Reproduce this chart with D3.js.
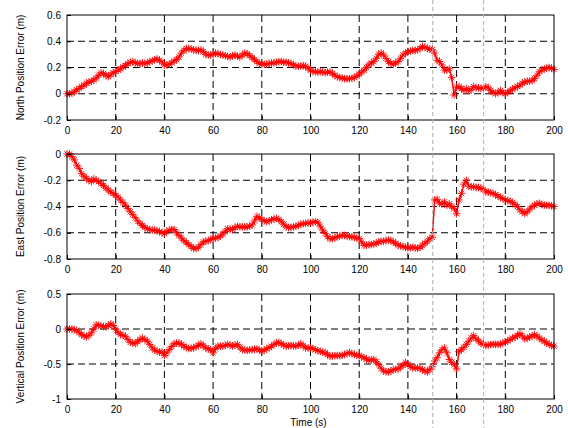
<!DOCTYPE html>
<html>
<head>
<meta charset="utf-8">
<script src="https://d3js.org/d3.v7.min.js"></script>
<style>
  body { margin: 0; background: #fff; }
  text { font-family: "Liberation Sans", Arial, sans-serif; font-size: 10px; fill: #000; }
</style>
</head>
<body>
<div id="chart"></div>
<script>
// time axis, 1 s steps
var timeS = d3.range(0, 201);

var northErr = [
  0.00, 0.00, 0.005, 0.015, 0.03, 0.04, 0.055, 0.065, 0.08, 0.09, 0.095,
  0.105, 0.12, 0.14, 0.16, 0.155, 0.14, 0.13, 0.145, 0.16, 0.17,
  0.18, 0.19, 0.205, 0.215, 0.23, 0.24, 0.245, 0.235, 0.23, 0.23,
  0.235, 0.23, 0.235, 0.245, 0.25, 0.26, 0.265, 0.255, 0.24, 0.22,
  0.22, 0.225, 0.235, 0.25, 0.26, 0.28, 0.31, 0.33, 0.345, 0.345,
  0.34, 0.335, 0.33, 0.33, 0.335, 0.32, 0.30, 0.295, 0.295, 0.30,
  0.31, 0.305, 0.30, 0.295, 0.29, 0.285, 0.28, 0.29, 0.295, 0.285,
  0.28, 0.295, 0.31, 0.305, 0.29, 0.275, 0.26, 0.245, 0.23, 0.225,
  0.225, 0.225, 0.23, 0.235, 0.235, 0.24, 0.245, 0.245, 0.24, 0.24,
  0.235, 0.23, 0.22, 0.21, 0.21, 0.21, 0.215, 0.21, 0.195, 0.18,
  0.17, 0.167, 0.165, 0.17, 0.165, 0.16, 0.165, 0.167, 0.155, 0.14,
  0.13, 0.123, 0.12, 0.115, 0.115, 0.115, 0.118, 0.123, 0.135, 0.15,
  0.165, 0.18, 0.2, 0.22, 0.235, 0.245, 0.27, 0.30, 0.31, 0.295,
  0.27, 0.245, 0.23, 0.225, 0.235, 0.245, 0.27, 0.295, 0.31, 0.32,
  0.325, 0.33, 0.33, 0.335, 0.345, 0.36, 0.355, 0.345, 0.34, 0.335,
  0.31, 0.255, 0.245, 0.22, 0.18, 0.18, 0.19, 0.123, -0.01, 0.05,
  0.055, 0.04, 0.025, 0.04, 0.025, 0.03, 0.055, 0.045, 0.045, 0.04,
  0.045, 0.055, 0.045, 0.025, 0.01, 0.0, 0.01, 0.025, 0.01, 0.0,
  0.01, 0.025, 0.035, 0.045, 0.055, 0.065, 0.08, 0.09, 0.095, 0.095,
  0.1, 0.115, 0.14, 0.167, 0.18, 0.19, 0.195, 0.2, 0.195, 0.185
];

var eastErr = [
  0, 0, -0.02, -0.045, -0.085, -0.11, -0.15, -0.17, -0.185, -0.2, -0.21,
  -0.19, -0.2, -0.21, -0.225, -0.24, -0.26, -0.275, -0.29, -0.3, -0.315,
  -0.33, -0.35, -0.37, -0.39, -0.415, -0.44, -0.46, -0.485, -0.51, -0.53,
  -0.545, -0.56, -0.57, -0.575, -0.58, -0.58, -0.585, -0.59, -0.6, -0.605,
  -0.59, -0.58, -0.575, -0.575, -0.6, -0.62, -0.64, -0.66, -0.675, -0.69,
  -0.705, -0.72, -0.72, -0.71, -0.69, -0.67, -0.665, -0.66, -0.65, -0.645,
  -0.64, -0.635, -0.625, -0.61, -0.59, -0.57, -0.575, -0.575, -0.56, -0.55,
  -0.555, -0.555, -0.555, -0.555, -0.55, -0.54, -0.51, -0.475, -0.485, -0.5,
  -0.51, -0.515, -0.51, -0.5, -0.495, -0.49, -0.5, -0.515, -0.535, -0.555,
  -0.56, -0.56, -0.555, -0.55, -0.545, -0.535, -0.53, -0.53, -0.525, -0.525,
  -0.52, -0.515, -0.52, -0.55, -0.58, -0.605, -0.63, -0.645, -0.645, -0.64,
  -0.63, -0.625, -0.62, -0.62, -0.625, -0.63, -0.63, -0.635, -0.64, -0.645,
  -0.67, -0.695, -0.695, -0.69, -0.69, -0.685, -0.68, -0.67, -0.665, -0.665,
  -0.66, -0.655, -0.66, -0.67, -0.68, -0.695, -0.7, -0.705, -0.71, -0.715,
  -0.715, -0.71, -0.715, -0.72, -0.71, -0.695, -0.68, -0.665, -0.645, -0.635,
  -0.35, -0.345, -0.375, -0.38, -0.365, -0.39, -0.38, -0.4, -0.415, -0.455,
  -0.35, -0.30, -0.23, -0.2, -0.245, -0.25, -0.25, -0.255, -0.255, -0.26,
  -0.27, -0.29, -0.29, -0.295, -0.3, -0.31, -0.32, -0.33, -0.34, -0.35,
  -0.355, -0.36, -0.37, -0.385, -0.4, -0.425, -0.44, -0.455, -0.44, -0.42,
  -0.4, -0.39, -0.38, -0.375, -0.385, -0.39, -0.39, -0.39, -0.395, -0.4
];

var vertErr = [
  0, 0, 0, -0.01, -0.02, -0.05, -0.08, -0.1, -0.115, -0.09, -0.055,
  0.0, 0.06, 0.055, 0.045, 0.035, 0.03, 0.05, 0.075, 0.05, 0.0,
  -0.05, -0.08, -0.09, -0.105, -0.15, -0.19, -0.2, -0.21, -0.18, -0.15,
  -0.13, -0.15, -0.175, -0.22, -0.27, -0.3, -0.32, -0.33, -0.33, -0.38,
  -0.34, -0.295, -0.25, -0.21, -0.2, -0.2, -0.22, -0.245, -0.265, -0.28,
  -0.275, -0.27, -0.25, -0.235, -0.21, -0.24, -0.27, -0.285, -0.295, -0.34,
  -0.28, -0.245, -0.245, -0.245, -0.235, -0.22, -0.23, -0.245, -0.23, -0.22,
  -0.26, -0.295, -0.3, -0.305, -0.3, -0.295, -0.29, -0.285, -0.3, -0.32,
  -0.3, -0.285, -0.265, -0.245, -0.22, -0.2, -0.19, -0.21, -0.23, -0.245,
  -0.24, -0.235, -0.24, -0.245, -0.23, -0.21, -0.24, -0.27, -0.27, -0.27,
  -0.28, -0.295, -0.31, -0.32, -0.33, -0.34, -0.365, -0.39, -0.385, -0.38,
  -0.38, -0.38, -0.375, -0.365, -0.35, -0.34, -0.35, -0.365, -0.375, -0.38,
  -0.395, -0.41, -0.43, -0.445, -0.44, -0.435, -0.47, -0.51, -0.56, -0.6,
  -0.61, -0.615, -0.6, -0.58, -0.575, -0.57, -0.545, -0.52, -0.475, -0.51,
  -0.535, -0.555, -0.555, -0.555, -0.565, -0.58, -0.6, -0.615, -0.58, -0.54,
  -0.455, -0.41, -0.34, -0.295, -0.27, -0.34, -0.435, -0.475, -0.51, -0.57,
  -0.32, -0.295, -0.26, -0.22, -0.175, -0.13, -0.095, -0.14, -0.17, -0.2,
  -0.22, -0.235, -0.23, -0.22, -0.22, -0.22, -0.22, -0.22, -0.2, -0.19,
  -0.17, -0.15, -0.13, -0.115, -0.09, -0.065, -0.1, -0.14, -0.13, -0.115,
  -0.1, -0.08, -0.1, -0.13, -0.155, -0.175, -0.2, -0.22, -0.235, -0.245
];

var xTicks = [0, 20, 40, 60, 80, 100, 120, 140, 160, 180, 200];
var northTicks = [-0.2, 0, 0.2, 0.4, 0.6];
var eastTicks = [-0.8, -0.6, -0.4, -0.2, 0];
var vertTicks = [-1, -0.5, 0, 0.5];
var eventTimes = [150.2, 171.1];   // gray dashed markers across the figure

var w = 568, h = 428;
var left = 67, right = 554;

var svg = d3.select("#chart").append("svg")
    .attr("width", w)
    .attr("height", h);

var x = d3.scaleLinear().domain([0, 200]).range([left, right]);

var panels = [
  { vals: northErr, ticks: northTicks, top: 15,  bottom: 120, label: "North Position Error (m)" },
  { vals: eastErr,  ticks: eastTicks,  top: 154, bottom: 259, label: "East Position Error (m)" },
  { vals: vertErr,  ticks: vertTicks,  top: 294, bottom: 399, label: "Vertical Position Error (m)" }
];

// matlab style '*' marker
var star = "M-3.8,0H3.8M0,-3.8V3.8M-2.7,-2.7L2.7,2.7M-2.7,2.7L2.7,-2.7";

panels.forEach(function(p) {
  var y = d3.scaleLinear()
      .domain(d3.extent(p.ticks))
      .range([p.bottom, p.top]);

  var g = svg.append("g");

  // grid
  g.selectAll(".vg").data(xTicks.slice(1, -1)).enter().append("line")
      .attr("x1", function(d) { return x(d); })
      .attr("x2", function(d) { return x(d); })
      .attr("y1", p.top).attr("y2", p.bottom)
      .attr("stroke", "#000").attr("stroke-width", 1)
      .attr("stroke-dasharray", "7,4");
  g.selectAll(".hg").data(p.ticks.slice(1, -1)).enter().append("line")
      .attr("x1", left).attr("x2", right)
      .attr("y1", function(d) { return y(d); })
      .attr("y2", function(d) { return y(d); })
      .attr("stroke", "#000").attr("stroke-width", 1)
      .attr("stroke-dasharray", "7,4");

  // data line + star markers
  var line = d3.line()
      .x(function(d, i) { return x(timeS[i]); })
      .y(function(d) { return y(d); });

  g.append("path")
      .datum(p.vals)
      .attr("d", line)
      .attr("fill", "none")
      .attr("stroke", "#ff0000")
      .attr("stroke-width", 1.5);

  g.selectAll(".pt").data(p.vals).enter().append("path")
      .attr("d", star)
      .attr("transform", function(d, i) { return "translate(" + x(timeS[i]) + "," + y(d) + ")"; })
      .attr("fill", "none")
      .attr("stroke", "#ff0000")
      .attr("stroke-width", 0.9);

  // box
  g.append("rect")
      .attr("x", left).attr("y", p.top)
      .attr("width", right - left).attr("height", p.bottom - p.top)
      .attr("fill", "none").attr("stroke", "#000").attr("stroke-width", 1);

  // axes, ticks inward
  var xAxis = d3.axisBottom(x).tickValues(xTicks).tickSizeInner(-4).tickSizeOuter(0).tickPadding(7)
      .tickFormat(d3.format("d"));
  var gx = g.append("g").attr("transform", "translate(0," + p.bottom + ")").call(xAxis);

  var yAxis = d3.axisLeft(y).tickValues(p.ticks).tickSizeInner(-4).tickSizeOuter(0).tickPadding(6)
      .tickFormat(function(d) { return String(+d.toFixed(2)); });
  var gy = g.append("g").attr("transform", "translate(" + left + ",0)").call(yAxis);

  [gx, gy].forEach(function(a) {
    a.select(".domain").remove();
    a.selectAll("line").attr("stroke", "#000");
    a.selectAll("text").attr("font-size", 10)
        .attr("font-family", "'Liberation Sans', Arial, sans-serif");
  });

  g.append("text")
      .attr("transform", "translate(24," + (p.top + p.bottom) / 2 + ") rotate(-90)")
      .attr("text-anchor", "middle")
      .text(p.label);
});

// x label
svg.append("text")
    .attr("x", (left + right) / 2 - 2)
    .attr("y", 426)
    .attr("text-anchor", "middle")
    .text("Time (s)");

// gray event lines
svg.selectAll(".ev").data(eventTimes).enter().append("line")
    .attr("x1", function(d) { return x(d); })
    .attr("x2", function(d) { return x(d); })
    .attr("y1", 0).attr("y2", h)
    .attr("stroke", "#b0b0b0")
    .attr("stroke-width", 1)
    .attr("stroke-dasharray", "4,3");
</script>
</body>
</html>
